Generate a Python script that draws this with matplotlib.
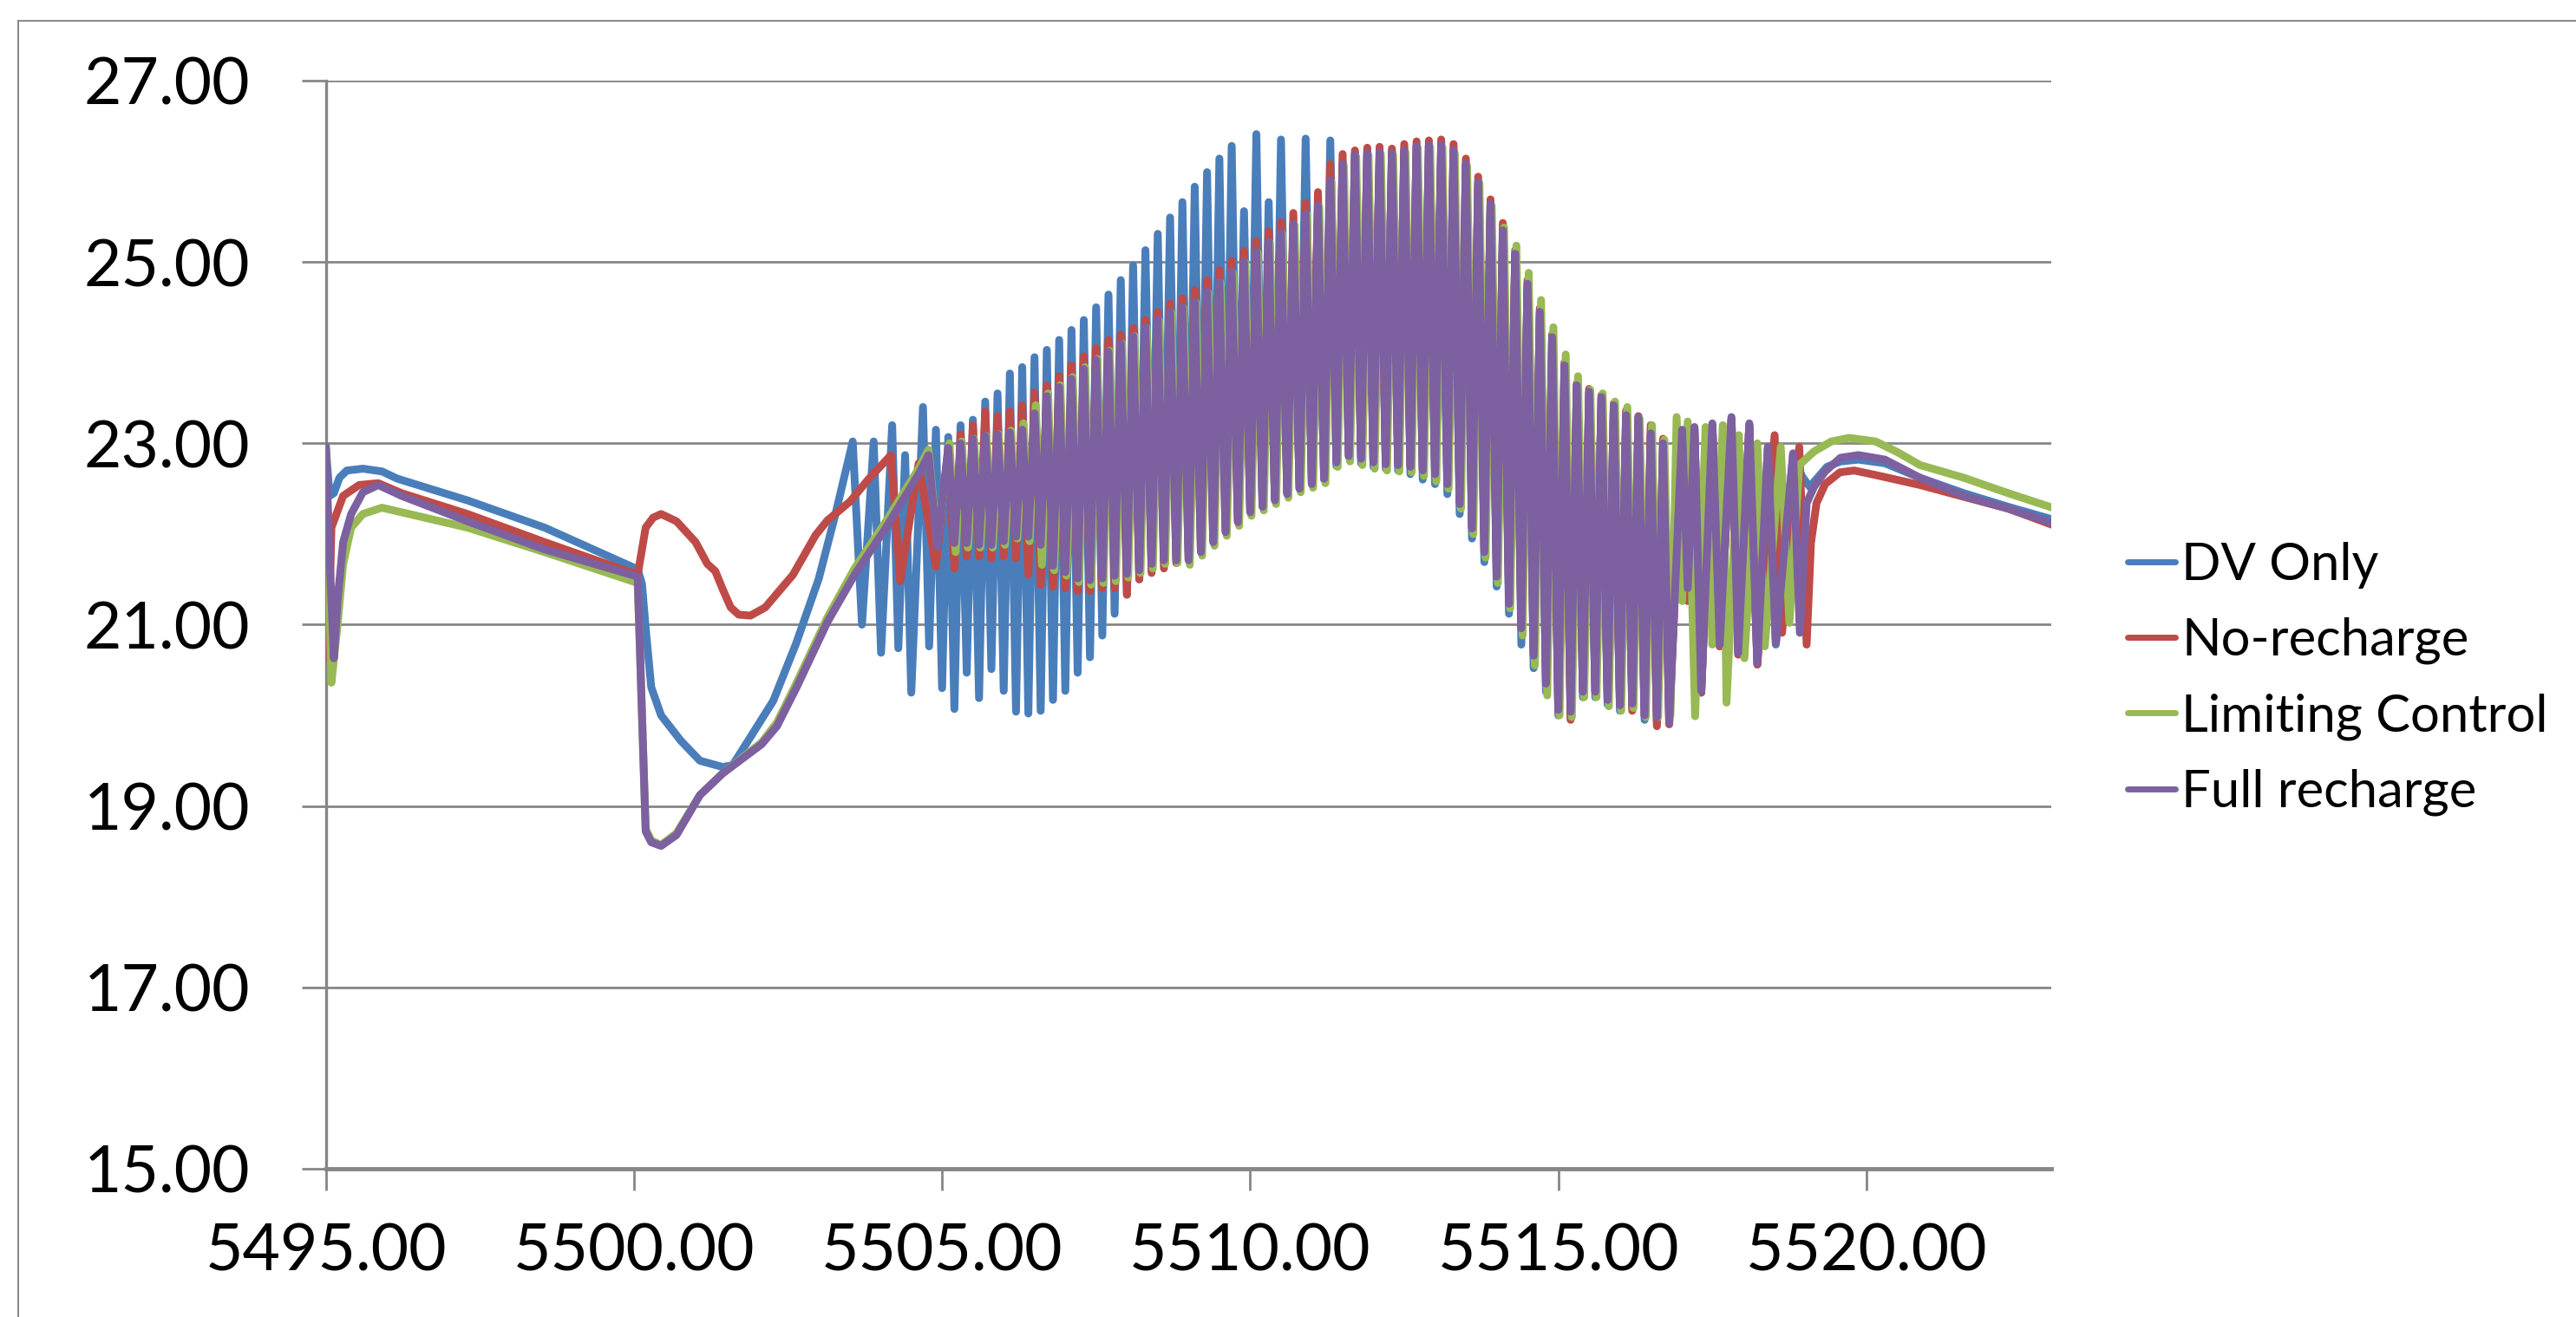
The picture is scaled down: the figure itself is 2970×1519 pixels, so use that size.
import numpy as np
import matplotlib
matplotlib.use("Agg")
import matplotlib.pyplot as plt
from matplotlib.lines import Line2D

plt.rcParams['font.family'] = ['Lato', 'DejaVu Sans']

labels = ["DV Only", "No-recharge", "Limiting Control", "Full recharge"]
colors = ["#4A7EBB", "#BE4B48", "#98B954", "#7D60A0"]

x_ticks = [5495, 5500, 5505, 5510, 5515, 5520]
y_ticks = [15, 17, 19, 21, 23, 25, 27]

# oscillation samples are peak/trough pairs 0.1 apart
STEP = 0.1

# ---- DV Only
dv_pre_x = [5495.0, 5495.06, 5495.13, 5495.22, 5495.34, 5495.60, 5495.91, 5496.16,
            5497.30, 5498.55, 5500.06, 5500.13, 5500.19, 5500.28, 5500.44, 5500.76,
            5501.07, 5501.44, 5501.60, 5501.89, 5502.26, 5502.63, 5503.0, 5503.27,
            5503.55, 5503.70, 5503.89, 5504.01, 5504.19, 5504.29, 5504.40, 5504.50,
            5504.69, 5504.79]
dv_pre_y = [22.95, 22.42, 22.45, 22.62, 22.70, 22.72, 22.69, 22.61,
            22.37, 22.07, 21.61, 21.45, 20.96, 20.31, 20.00, 19.72,
            19.50, 19.43, 19.45, 19.76, 20.16, 20.79, 21.51, 22.22,
            23.02, 21.00, 23.02, 20.69, 23.20, 20.74, 22.87, 20.25,
            23.40, 20.76]
dv_t0 = 5504.90
dv_osc = [23.15, 20.30, 23.07, 20.07, 23.20, 20.47, 23.26, 20.19, 23.46, 20.51,
          23.55, 20.27, 23.77, 20.04, 23.84, 20.02, 23.95, 20.05, 24.03, 20.17,
          24.14, 20.27, 24.25, 20.47, 24.36, 20.64, 24.50, 20.88, 24.64, 21.12,
          24.80, 21.33, 24.96, 21.50, 25.13, 21.60, 25.31, 21.70, 25.49, 21.75,
          25.66, 21.80, 25.83, 21.90, 25.99, 22.00, 26.14, 22.10, 26.28, 22.20,
          25.56, 22.30, 26.41, 22.35, 25.66, 22.40, 26.35, 22.45, 25.40, 22.50,
          26.36, 22.55, 25.60, 22.60, 26.34, 22.75, 26.10, 22.85, 26.20, 22.78,
          26.22, 22.74, 26.22, 22.72, 26.22, 22.70, 26.25, 22.66, 26.28, 22.60,
          26.28, 22.55, 26.28, 22.44, 26.22, 22.22, 26.07, 21.95, 25.87, 21.69,
          25.63, 21.42, 25.34, 21.12, 25.08, 20.78, 24.75, 20.52, 24.44, 20.26,
          24.16, 20.00, 23.85, 19.98, 23.63, 20.20, 23.56, 20.20, 23.50, 20.12,
          23.41, 20.05, 23.30, 20.08, 23.28, 19.95, 23.10, 19.93, 22.99, 19.98]
dv_post_x = [5517.01, 5517.10, 5517.21, 5517.32, 5517.50, 5517.62, 5517.81, 5517.92,
             5518.10, 5518.23, 5518.40, 5518.53, 5518.81, 5518.96, 5519.08, 5519.36,
             5519.58, 5519.87, 5520.30, 5520.87, 5521.58, 5522.30, 5523.02]
dv_post_y = [23.12, 21.38, 23.15, 20.25, 23.20, 20.76, 23.26, 20.67,
             23.20, 20.56, 22.94, 20.78, 22.87, 22.63, 22.52, 22.74,
             22.80, 22.82, 22.78, 22.62, 22.45, 22.30, 22.16]

# ---- No-recharge
nr_pre_x = [5495.0, 5495.04, 5495.09, 5495.28, 5495.54, 5495.85, 5496.23, 5497.30,
            5498.55, 5500.06, 5500.19, 5500.31, 5500.44, 5500.69, 5501.0, 5501.19,
            5501.32, 5501.44, 5501.57, 5501.70, 5501.89, 5502.13, 5502.33, 5502.58,
            5502.95, 5503.14, 5503.51, 5503.80, 5504.17, 5504.32, 5504.62, 5504.90]
nr_pre_y = [22.90, 20.63, 22.07, 22.42, 22.54, 22.56, 22.45, 22.22,
            21.91, 21.55, 22.07, 22.18, 22.22, 22.14, 21.91, 21.67,
            21.59, 21.39, 21.19, 21.11, 21.10, 21.19, 21.35, 21.55,
            21.99, 22.15, 22.36, 22.60, 22.87, 21.48, 22.78, 21.64]
nr_t0 = 5505.10
nr_osc = [22.95, 21.62, 23.10, 21.75, 23.20, 21.75, 23.35, 21.73, 23.30, 21.75,
          23.35, 21.73, 23.42, 21.55, 23.56, 21.44, 23.64, 21.42, 23.74, 21.40,
          23.86, 21.37, 23.96, 21.37, 24.05, 21.40, 24.14, 21.40, 24.20, 21.33,
          24.27, 21.50, 24.36, 21.57, 24.45, 21.62, 24.54, 21.68, 24.60, 21.72,
          24.69, 21.81, 24.80, 21.92, 24.91, 22.03, 25.01, 22.14, 25.12, 22.25,
          25.23, 22.31, 25.34, 22.38, 25.44, 22.45, 25.54, 22.51, 25.65, 22.56,
          25.77, 22.62, 26.08, 22.80, 26.19, 22.87, 26.23, 22.84, 26.26, 22.80,
          26.27, 22.78, 26.25, 22.77, 26.30, 22.75, 26.33, 22.71, 26.34, 22.67,
          26.35, 22.56, 26.30, 22.34, 26.14, 22.07, 25.94, 21.81, 25.69, 21.54,
          25.43, 21.24, 25.13, 20.97, 24.80, 20.67, 24.49, 20.36, 24.20, 20.05,
          23.89, 19.95, 23.66, 20.26, 23.60, 20.26, 23.53, 20.17, 23.44, 20.11,
          23.36, 20.05, 23.30, 20.00, 23.20, 19.88, 23.05, 19.90]
nr_post_x = [5517.01, 5517.10, 5517.21, 5517.32, 5517.50, 5517.62, 5517.81, 5517.92,
             5518.10, 5518.23, 5518.51, 5518.63, 5518.91, 5519.03, 5519.10, 5519.19,
             5519.33, 5519.57, 5519.80, 5520.15, 5520.87, 5521.58, 5522.30, 5523.02]
nr_post_y = [23.13, 21.26, 23.16, 20.25, 23.20, 20.76, 23.27, 20.67,
             23.20, 20.56, 23.09, 20.91, 22.96, 20.78, 21.90, 22.34,
             22.55, 22.68, 22.70, 22.65, 22.54, 22.41, 22.28, 22.10]

# ---- Limiting Control
lc_pre_x = [5495.0, 5495.05, 5495.09, 5495.19, 5495.28, 5495.41, 5495.60, 5495.91,
            5496.35, 5497.30, 5498.55, 5500.06, 5500.19, 5500.28, 5500.44, 5500.69,
            5501.07, 5501.44, 5502.07, 5502.32, 5502.64, 5503.14, 5503.58, 5504.09,
            5504.62, 5504.78, 5504.92]
lc_pre_y = [22.97, 21.50, 20.36, 21.00, 21.67, 22.07, 22.22, 22.29,
            22.22, 22.07, 21.80, 21.46, 18.75, 18.62, 18.57, 18.70,
            19.12, 19.36, 19.70, 19.92, 20.36, 21.08, 21.62, 22.14,
            22.72, 22.93, 21.90]
lc_t0 = 5505.12
lc_osc = [23.00, 21.80, 23.02, 21.85, 23.05, 21.85, 23.08, 21.85, 23.10, 21.88,
          23.14, 21.95, 23.22, 21.92, 23.42, 21.66, 23.55, 21.60, 23.64, 21.54,
          23.73, 21.47, 23.84, 21.44, 23.93, 21.46, 24.02, 21.48, 24.10, 21.52,
          24.18, 21.57, 24.27, 21.62, 24.35, 21.67, 24.44, 21.68, 24.49, 21.66,
          24.55, 21.76, 24.66, 21.87, 24.77, 21.98, 24.88, 22.09, 24.99, 22.20,
          25.10, 22.26, 25.21, 22.33, 25.31, 22.40, 25.41, 22.46, 25.52, 22.51,
          25.61, 22.56, 25.88, 22.74, 26.06, 22.80, 26.16, 22.76, 26.18, 22.72,
          26.19, 22.70, 26.18, 22.69, 26.21, 22.68, 26.26, 22.64, 26.27, 22.58,
          26.26, 22.50, 26.20, 22.28, 26.06, 22.00, 25.87, 21.74, 25.62, 21.46,
          25.38, 21.18, 25.18, 20.88, 24.88, 20.55, 24.58, 20.22, 24.28, 20.00,
          23.98, 19.98, 23.74, 20.20, 23.59, 20.20, 23.55, 20.10, 23.46, 20.05,
          23.40, 20.08, 23.27, 19.98, 23.20, 19.98, 23.04, 20.00]
lc_post_x = [5516.92, 5517.01, 5517.10, 5517.22, 5517.39, 5517.50, 5517.67, 5517.73,
             5517.93, 5518.02, 5518.23, 5518.35, 5518.61, 5518.75, 5518.91, 5519.15,
             5519.43, 5519.72, 5520.15, 5520.51, 5520.87, 5521.58, 5522.30, 5523.02]
lc_post_y = [23.29, 21.26, 23.24, 19.99, 23.18, 20.78, 23.20, 20.14,
             23.09, 20.63, 23.00, 20.76, 22.96, 21.02, 22.76, 22.91,
             23.02, 23.06, 23.02, 22.90, 22.76, 22.62, 22.45, 22.29]

# ---- Full recharge
fr_pre_x = [5495.0, 5495.06, 5495.13, 5495.19, 5495.28, 5495.41, 5495.60, 5495.85,
            5496.23, 5497.30, 5498.55, 5500.06, 5500.19, 5500.28, 5500.44, 5500.69,
            5501.07, 5501.44, 5502.07, 5502.32, 5502.64, 5503.14, 5503.58, 5504.09,
            5504.62, 5504.78, 5504.92]
fr_pre_y = [22.97, 21.75, 20.63, 21.27, 21.91, 22.22, 22.46, 22.54,
            22.42, 22.14, 21.83, 21.53, 18.72, 18.60, 18.56, 18.68,
            19.12, 19.36, 19.68, 19.88, 20.31, 21.03, 21.55, 22.07,
            22.66, 22.87, 21.86]
fr_t0 = 5505.10
fr_osc = [22.95, 21.90, 23.00, 21.90, 23.05, 21.88, 23.08, 21.88, 23.10, 21.92,
          23.12, 21.97, 23.15, 21.97, 23.33, 21.88, 23.52, 21.65, 23.62, 21.58,
          23.71, 21.51, 23.82, 21.49, 23.92, 21.51, 24.01, 21.54, 24.10, 21.56,
          24.18, 21.60, 24.28, 21.67, 24.36, 21.71, 24.45, 21.71, 24.50, 21.71,
          24.56, 21.80, 24.67, 21.91, 24.78, 22.02, 24.89, 22.13, 25.00, 22.24,
          25.11, 22.30, 25.22, 22.37, 25.32, 22.44, 25.42, 22.50, 25.53, 22.55,
          25.62, 22.61, 25.90, 22.79, 26.08, 22.86, 26.18, 22.83, 26.20, 22.79,
          26.21, 22.77, 26.20, 22.76, 26.23, 22.74, 26.28, 22.70, 26.29, 22.66,
          26.29, 22.55, 26.23, 22.33, 26.08, 22.06, 25.88, 21.80, 25.64, 21.53,
          25.35, 21.23, 25.09, 20.96, 24.76, 20.66, 24.45, 20.35, 24.17, 20.06,
          23.86, 20.04, 23.64, 20.26, 23.57, 20.26, 23.51, 20.17, 23.42, 20.11,
          23.31, 20.13, 23.29, 20.00, 23.11, 19.98, 23.00, 19.92]
fr_post_x = [5517.01, 5517.10, 5517.21, 5517.32, 5517.50, 5517.62, 5517.81, 5517.92,
             5518.10, 5518.23, 5518.40, 5518.53, 5518.81, 5518.92, 5519.03, 5519.15,
             5519.33, 5519.58, 5519.87, 5520.30, 5520.87, 5521.58, 5522.30, 5523.02]
fr_post_y = [23.15, 21.40, 23.18, 20.27, 23.22, 20.78, 23.29, 20.69,
             23.22, 20.58, 22.96, 20.80, 22.89, 20.91, 22.34, 22.52,
             22.69, 22.84, 22.87, 22.82, 22.62, 22.42, 22.28, 22.12]


def build(pre_x, pre_y, t0, osc, post_x, post_y):
    osc_x = t0 + STEP * np.arange(len(osc))
    x = np.concatenate([pre_x, osc_x, post_x])
    y = np.concatenate([pre_y, osc, post_y])
    return x, y


series = [
    build(dv_pre_x, dv_pre_y, dv_t0, dv_osc, dv_post_x, dv_post_y),
    build(nr_pre_x, nr_pre_y, nr_t0, nr_osc, nr_post_x, nr_post_y),
    build(lc_pre_x, lc_pre_y, lc_t0, lc_osc, lc_post_x, lc_post_y),
    build(fr_pre_x, fr_pre_y, fr_t0, fr_osc, fr_post_x, fr_post_y),
]

fig = plt.figure(figsize=(29.70, 15.19), dpi=100)
ax = fig.add_axes([0.1265, 0.1126, 0.6698, 0.8262])

grid_c = "#868686"
for (x, y), lab, c in zip(series, labels, colors):
    ax.plot(x, y, color=c, lw=6.5, label=lab,
            solid_joinstyle="round", solid_capstyle="round", zorder=3)

ax.set_xlim(5495, 5523)
ax.set_ylim(15, 27)
ax.set_xticks(x_ticks)
ax.set_yticks(y_ticks)
ax.set_xticklabels([f"{v:.2f}" for v in x_ticks])
ax.set_yticklabels([f"{v:.2f}" for v in y_ticks])
ax.yaxis.grid(True, color=grid_c, lw=2.0)
ax.set_axisbelow(True)

for s in ["top", "right"]:
    ax.spines[s].set_visible(False)
ax.spines["left"].set_color(grid_c)
ax.spines["left"].set_linewidth(2.4)
ax.spines["bottom"].set_color(grid_c)
ax.spines["bottom"].set_linewidth(3.5)
ax.spines["bottom"].set_zorder(4)

ax.tick_params(axis="y", direction="out", length=20, width=2.0, color=grid_c,
               pad=43, labelsize=54)
ax.tick_params(axis="x", direction="out", length=18, width=2.0, color=grid_c,
               pad=26, labelsize=54)

leg = fig.legend(loc="center left", bbox_to_anchor=(0.826, 0.4845),
                 frameon=False, fontsize=43, handlelength=0.92, handletextpad=0.12,
                 labelspacing=0.55, borderpad=0, borderaxespad=0)
for h in leg.get_lines():
    h.set_linewidth(5.0)

# chart border
fig.add_artist(Line2D([21 / 2970, 1.0], [1 - 24 / 1519, 1 - 24 / 1519],
                      transform=fig.transFigure, color="#8c8c8c", lw=1.5))
fig.add_artist(Line2D([21 / 2970, 21 / 2970], [0.0, 1 - 24 / 1519],
                      transform=fig.transFigure, color="#8c8c8c", lw=1.5))

fig.savefig("out.png", dpi=100)
